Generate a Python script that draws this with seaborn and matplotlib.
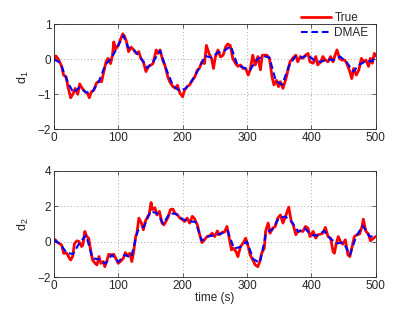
import numpy as np
import pandas as pd
import matplotlib
matplotlib.use("Agg")
import matplotlib.pyplot as plt
import seaborn as sns

# ---- data ----
t1 = [0,3,7,12,15,19,22,26,30,33, 37,40,44,48,52,55,58,62,66,70,
      74,77,81,84,88,91,93,96,100,103, 107,110,113,116,120,124,128,132,135,139,
      143,147,151,154,159,162,165,169,173,177, 180,185,189,192,196,200,203,207,211,215,
      219,223,226,230,234,237,241,245,248,251, 255,259,263,267,270,274,278,282,286,290,
      294,298,302,305,309,313,317,321,324,327, 331,335,339,342,346,349,352,356,360,364,
      367,371,376,379,383,387,391,395,398,403, 407,410,415,418,422,426,430,434,437,440,
      444,448,452,455,460,463,466,470,474,478, 481,485,489,492,495,498,500]
d1_true = [0.0,0.1,0.0,-0.2,-0.45,-0.5,-0.8,-1.1,-0.97,-0.83, -1.0,-0.7,-0.83,-0.92,-0.97,-1.1,-0.93,-0.88,-0.68,-0.62,
           -0.64,-0.4,-0.07,0.03,-0.12,0.12,0.5,0.3,0.4,0.55, 0.73,0.65,0.5,0.22,0.35,0.27,0.17,0.22,0.03,-0.07,
           -0.35,-0.2,-0.16,-0.12,0.27,0.17,0.27,-0.02,-0.2,-0.5, -0.64,-0.78,-0.83,-0.74,-0.97,-1.07,-0.88,-0.78,-0.73,-0.6,
           -0.5,-0.3,-0.26,-0.07,-0.12,0.4,0.17,0.03,-0.26,0.07, 0.27,0.07,0.12,0.36,0.44,0.4,0.03,-0.11,-0.2,-0.16,
           -0.26,-0.26,-0.45,-0.3,0.12,-0.16,0.08,-0.3,0.12,0.12, 0.12,0.03,-0.5,-0.73,-0.6,-0.78,-0.64,-0.83,-0.6,-0.3,
           -0.07,0.03,0.12,-0.07,0.08,0.03,0.12,0.17,-0.07,-0.11, 0.08,-0.16,-0.07,0.08,-0.02,-0.07,0.08,-0.07,0.12,0.27,
           0.03,-0.02,-0.02,-0.11,-0.35,-0.55,-0.26,-0.45,-0.3,0.03, -0.07,-0.02,-0.2,0.03,-0.11,0.17,0.1]

td1 = [0,10,20,30,40,50,60,70,80,90,100,108,115,125,135,145,155,165,175,185,195,205,215,225,235,245,
       255,265,275,285,295,305,315,325,335,345,355,365,375,385,395,405,415,425,435,445,455,465,475,485,495,500]
d1_dmae = [0.0,-0.1,-0.6,-0.95,-0.8,-0.95,-0.92,-0.63,-0.15,0.05,0.4,0.68,0.35,0.25,0.05,-0.25,-0.05,0.25,-0.3,-0.75,
           -0.9,-0.83,-0.6,-0.28,0.1,0.05,0.2,0.25,0.38,-0.15,-0.24,-0.3,-0.02,0.1,0.05,-0.62,-0.72,-0.2,0.08,0.05,
           0.12,-0.03,-0.07,0.0,-0.02,0.08,-0.08,-0.35,-0.15,-0.05,-0.05,0.12]

t2 = [0,2,5,8,12,15,20,24,26,29, 32,36,39,43,45,48,51,54,57,60,
      64,67,70,73,77,79,82,85,90,93, 96,100,104,108,111,114,118,121,124,127,
      129,132,136,139,142,146,148,151,153,157, 160,164,168,171,174,178,181,185,188,192,
      196,200,203,207,211,215,218,223,226,230, 234,238,242,246,250,254,257,262,265,269,
      272,276,279,283,286,290,294,298,302,305, 309,313,317,320,323,327,329,333,336,340,
      344,348,352,356,360,363,365,369,372,376, 379,383,387,391,395,398,403,407,410,415,
      418,422,426,430,434,436,439,442,446,449, 453,457,460,463,467,471,475,479,481,485,
      489,492,495,500]
d2_true = [0.1,0.1,-0.04,-0.1,-0.2,-0.66,-0.66,-0.94,-1.04,-0.85,
           -0.1,0.04,0.0,-0.28,-0.2,0.57,0.28,0.19,-0.47,-1.04,
           -1.23,-1.32,-0.85,-1.23,-1.13,-1.42,-1.13,-0.72,-0.75,-0.72,
           -0.94,-1.23,-1.1,-0.94,-0.62,-0.81,-0.66,-1.13,-0.57,0.28,
           0.47,1.32,1.04,0.66,1.13,1.43,1.52,2.2,1.8,1.9,
           1.5,1.7,1.04,0.94,1.13,1.42,1.8,1.83,1.6,1.5,
           1.32,1.23,1.13,1.32,1.04,1.42,1.32,0.94,0.47,-0.06,
           0.1,0.28,0.32,0.47,0.28,0.6,0.38,0.53,0.53,0.85,
           0.28,-0.47,-0.38,-0.57,-0.85,-0.28,-0.1,0.19,-0.28,-0.75,
           -1.04,-1.32,-1.42,-1.13,-0.66,-0.38,0.57,1.04,0.47,0.75,
           0.85,1.32,1.5,1.04,1.42,1.74,1.94,1.13,0.94,0.38,
           0.57,0.6,0.57,0.85,0.75,0.28,0.57,0.19,0.38,0.42,
           0.47,0.8,0.28,0.19,-0.57,-0.66,-0.1,0.28,-0.04,-0.15,
           0.1,-0.75,-0.85,-0.38,0.28,0.38,0.42,0.85,1.26,0.57,
           0.42,0.04,0.13,0.28]

td2 = list(range(0, 501, 10))
d2_dmae = [0.1,-0.15,-0.65,-0.7,-0.05,0.35,-0.95,-1.0,-1.25,-0.75,
           -1.15,-0.75,-0.9,0.6,0.85,1.7,1.6,1.0,1.6,1.55,
           1.25,1.15,1.1,0.05,0.3,0.35,0.45,0.6,-0.4,-0.3,
           0.0,-1.0,-1.2,0.5,0.7,1.35,1.4,1.1,0.55,0.75,
           0.35,0.35,0.6,0.15,-0.1,-0.05,-0.75,0.3,0.9,0.3,0.25]

series_names = ["True", "DMAE"]
x_ticks = [0, 100, 200, 300, 400, 500]
y1_ticks = [-2, -1, 0, 1]
y2_ticks = [-2, 0, 2, 4]

sns.set_style("ticks")
plt.rcParams['font.family'] = ['Liberation Sans', 'DejaVu Sans']
plt.rcParams['mathtext.fontset'] = 'custom'
plt.rcParams['mathtext.rm'] = 'Liberation Sans'
plt.rcParams['mathtext.it'] = 'Liberation Sans'

fig = plt.figure(figsize=(4.15, 3.13), dpi=100)
ax1 = fig.add_axes([0.130, 0.587, 0.775, 0.335])
ax2 = fig.add_axes([0.130, 0.115, 0.775, 0.340])

def draw(ax, tt, yt, td, yd, yticks, ylim, ylabel):
    df_t = pd.DataFrame({"t": tt, "v": yt})
    df_d = pd.DataFrame({"t": td, "v": yd})
    sns.lineplot(data=df_t, x="t", y="v", ax=ax, color="red", lw=2.0,
                 label=series_names[0], estimator=None, sort=False)
    sns.lineplot(data=df_d, x="t", y="v", ax=ax, color="blue", lw=1.5,
                 label=series_names[1], estimator=None, sort=False,
                 dashes=False)
    ax.lines[-1].set_linestyle((0, (3.2, 1.8)))
    ax.set_xlim(0, 500)
    ax.set_ylim(*ylim)
    ax.set_xticks(x_ticks)
    ax.set_yticks(yticks)
    ax.grid(True, linestyle=(0, (1, 3)), color='#8c8c8c', linewidth=0.6)
    ax.tick_params(direction='in', length=3, labelsize=8.5, width=0.5,
                   top=True, right=True, pad=2)
    for s in ax.spines.values():
        s.set_linewidth(0.6)
        s.set_color('#262626')
    ax.set_ylabel(ylabel, fontsize=9, labelpad=5)
    ax.set_xlabel("")

draw(ax1, t1, d1_true, td1, d1_dmae, y1_ticks, (-2, 1), r"$\mathregular{d_1}$")
draw(ax2, t2, d2_true, td2, d2_dmae, y2_ticks, (-2, 4), r"$\mathregular{d_2}$")

ax2.get_legend().remove()
leg = ax1.legend(loc='center right', bbox_to_anchor=(1.0, 0.99), frameon=False,
                 fontsize=8.5, handlelength=2.5, handletextpad=0.3, labelspacing=0.3,
                 borderaxespad=0.2)
ax2.set_xlabel("time (s)", fontsize=8.5, labelpad=0)

fig.savefig("out.png", dpi=100)
